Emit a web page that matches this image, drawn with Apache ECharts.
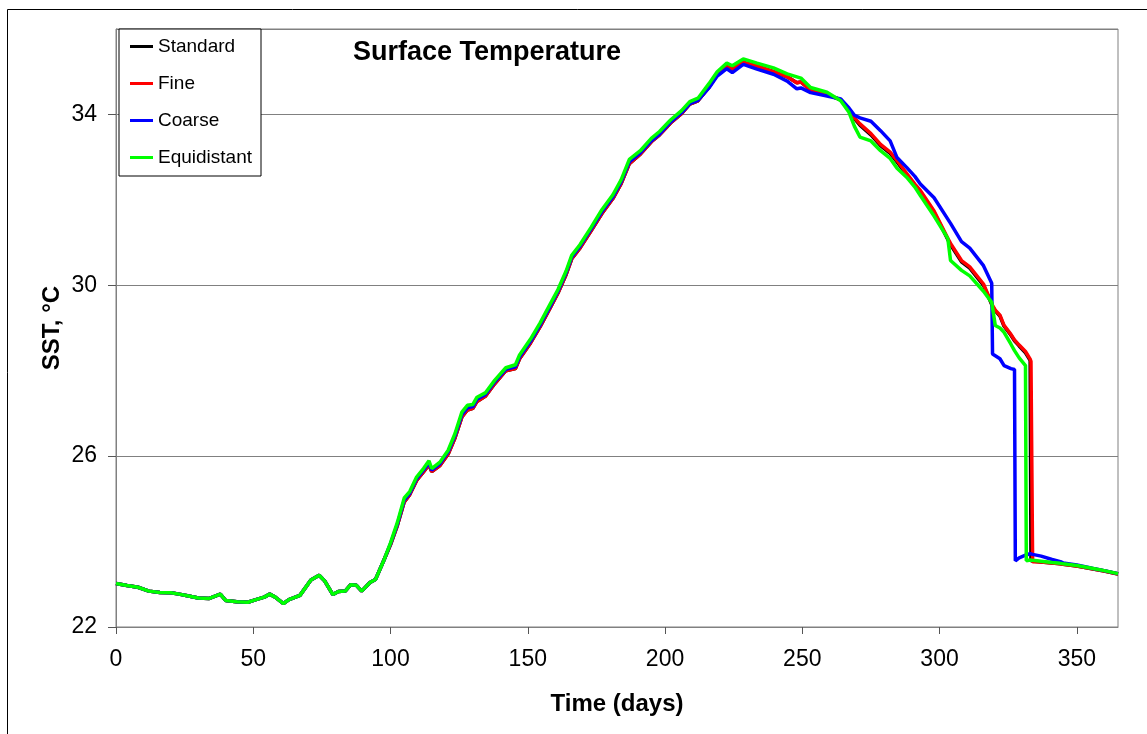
<!DOCTYPE html>
<html>
<head>
<meta charset="utf-8">
<script src="https://cdn.jsdelivr.net/npm/echarts@6/dist/echarts.min.js"></script>
<style>
html,body{margin:0;padding:0;background:#fff;}
#chart{width:1147px;height:734px;}
</style>
</head>
<body>
<div id="chart"></div>
<script>
const seriesNames = ['Standard', 'Fine', 'Coarse', 'Equidistant'];
const xTicks = [0, 50, 100, 150, 200, 250, 300, 350];
const yTicks = [22, 26, 30, 34];

const days = [
  0, 4, 8, 12, 16, 20, 23, 26, 30, 34,
  38, 40, 44, 48, 51, 54, 56, 58, 61, 63,
  67, 71, 74, 76, 79, 81, 83.5, 85.5, 87.5, 89.5,
  92.5, 94.5, 97.5, 100, 102.5, 105, 107, 109.5, 112, 114,
  115, 118, 121, 123.5, 126, 128, 130, 131.5, 134.5, 138,
  142, 145.5, 147, 151, 154.5, 158, 161, 164, 166, 169,
  173, 177, 181, 184, 187, 191, 195, 198, 202, 206,
  209, 212, 216, 219, 222.5, 224.5, 228.5, 233.5, 239.5, 244.5,
  248, 249.5, 253, 259, 264, 267, 269, 271, 275, 278.5,
  282, 284.5, 288, 291, 293, 298, 303, 304, 308, 311,
  316, 319, 319.3, 320.3, 322, 323.5, 326, 327.3, 327.6, 329,
  331.3, 331.6, 333, 333.3, 333.6, 333.9, 337, 341, 344, 345,
  350, 356, 360, 365
];

const standard = [
  23.02, 22.97, 22.93, 22.84, 22.81, 22.80, 22.77, 22.73, 22.68, 22.67,
  22.77, 22.62, 22.59, 22.58, 22.64, 22.70, 22.77, 22.70, 22.55, 22.64,
  22.74, 23.10, 23.21, 23.08, 22.76, 22.83, 22.84, 22.99, 22.98, 22.84,
  23.04, 23.11, 23.55, 23.93, 24.38, 24.93, 25.10, 25.43, 25.63, 25.80,
  25.64, 25.78, 26.05, 26.43, 26.92, 27.08, 27.12, 27.28, 27.40, 27.70,
  28.00, 28.05, 28.28, 28.65, 29.03, 29.45, 29.82, 30.26, 30.62, 30.87,
  31.27, 31.68, 32.03, 32.38, 32.85, 33.07, 33.36, 33.52, 33.80, 34.02,
  34.24, 34.32, 34.64, 34.92, 35.12, 35.06, 35.22, 35.13, 35.00, 34.88,
  34.74, 34.76, 34.57, 34.47, 34.34, 34.12, 33.90, 33.75, 33.52, 33.27,
  33.09, 32.89, 32.59, 32.34, 32.19, 31.71, 31.07, 30.95, 30.55, 30.40,
  30.00, 29.55, 29.50, 29.40, 29.28, 29.04, 28.83, 28.70, 28.68, 28.58,
  28.42, 28.39, 28.24, 23.55, 23.54, 23.53, 23.52, 23.50, 23.48, 23.47,
  23.43, 23.36, 23.31, 23.24
];

const fine = [
  23.02, 22.97, 22.93, 22.84, 22.81, 22.80, 22.77, 22.73, 22.68, 22.67,
  22.77, 22.62, 22.59, 22.58, 22.64, 22.70, 22.77, 22.70, 22.55, 22.64,
  22.74, 23.10, 23.21, 23.08, 22.76, 22.83, 22.84, 22.99, 22.98, 22.84,
  23.04, 23.11, 23.55, 23.93, 24.38, 24.93, 25.10, 25.43, 25.63, 25.80,
  25.64, 25.78, 26.05, 26.43, 26.92, 27.08, 27.12, 27.28, 27.40, 27.70,
  28.00, 28.05, 28.28, 28.65, 29.03, 29.45, 29.82, 30.26, 30.62, 30.87,
  31.27, 31.68, 32.03, 32.38, 32.85, 33.07, 33.36, 33.52, 33.80, 34.02,
  34.24, 34.32, 34.64, 34.92, 35.12, 35.06, 35.22, 35.13, 35.00, 34.88,
  34.74, 34.76, 34.57, 34.47, 34.34, 34.12, 33.92, 33.78, 33.55, 33.30,
  33.12, 32.92, 32.62, 32.37, 32.22, 31.74, 31.10, 30.98, 30.58, 30.43,
  30.03, 29.58, 29.53, 29.42, 29.30, 29.06, 28.85, 28.72, 28.70, 28.60,
  28.45, 28.42, 28.27, 28.22, 28.18, 23.53, 23.52, 23.50, 23.48, 23.47,
  23.43, 23.36, 23.31, 23.24
];

const coarse = [
  23.02, 22.97, 22.93, 22.84, 22.81, 22.80, 22.77, 22.73, 22.68, 22.67,
  22.77, 22.62, 22.59, 22.58, 22.64, 22.70, 22.77, 22.70, 22.55, 22.64,
  22.74, 23.10, 23.21, 23.08, 22.76, 22.83, 22.84, 22.99, 22.98, 22.84,
  23.04, 23.11, 23.55, 23.95, 24.41, 24.97, 25.13, 25.47, 25.67, 25.84,
  25.67, 25.82, 26.10, 26.48, 26.97, 27.13, 27.16, 27.33, 27.44, 27.74,
  28.03, 28.09, 28.32, 28.69, 29.07, 29.49, 29.86, 30.30, 30.66, 30.91,
  31.31, 31.72, 32.07, 32.42, 32.89, 33.10, 33.38, 33.54, 33.82, 34.04,
  34.25, 34.33, 34.62, 34.90, 35.07, 34.98, 35.17, 35.06, 34.94, 34.78,
  34.60, 34.62, 34.51, 34.43, 34.36, 34.15, 33.98, 33.92, 33.84, 33.62,
  33.38, 32.99, 32.76, 32.55, 32.37, 32.05, 31.55, 31.45, 31.02, 30.87,
  30.46, 30.05, 28.39, 28.35, 28.28, 28.12, 28.05, 28.03, 23.55, 23.62,
  23.68, 23.70, 23.72, 23.72, 23.71, 23.70, 23.66, 23.58, 23.53, 23.50,
  23.45, 23.37, 23.32, 23.25
];

const equidistant = [
  23.02, 22.97, 22.93, 22.84, 22.81, 22.80, 22.77, 22.73, 22.68, 22.67,
  22.77, 22.62, 22.59, 22.58, 22.64, 22.70, 22.77, 22.70, 22.55, 22.64,
  22.74, 23.10, 23.21, 23.08, 22.76, 22.83, 22.84, 22.99, 22.98, 22.84,
  23.04, 23.11, 23.55, 23.97, 24.45, 25.02, 25.17, 25.51, 25.71, 25.89,
  25.71, 25.86, 26.14, 26.53, 27.03, 27.19, 27.21, 27.38, 27.48, 27.78,
  28.07, 28.14, 28.37, 28.74, 29.12, 29.54, 29.90, 30.34, 30.70, 30.95,
  31.35, 31.77, 32.12, 32.47, 32.95, 33.15, 33.44, 33.60, 33.87, 34.09,
  34.30, 34.38, 34.72, 35.00, 35.20, 35.14, 35.30, 35.20, 35.09, 34.95,
  34.88, 34.85, 34.63, 34.52, 34.32, 34.05, 33.72, 33.47, 33.38, 33.15,
  32.97, 32.74, 32.53, 32.30, 32.10, 31.62, 31.10, 30.58, 30.35, 30.22,
  29.86, 29.60, 29.56, 29.06, 29.00, 28.90, 28.62, 28.47, 28.44, 28.30,
  28.12, 23.55, 23.57, 23.57, 23.56, 23.56, 23.54, 23.51, 23.49, 23.48,
  23.44, 23.37, 23.32, 23.25
];

const seriesValues = [standard, fine, coarse, equidistant];
const seriesColors = ['#000000', '#ff0000', '#0000ff', '#00ff00'];

const FONT = '"Liberation Sans", Arial, sans-serif';
const chart = echarts.init(document.getElementById('chart'), null, {renderer: 'canvas'});

chart.setOption({
  animation: false,
  backgroundColor: '#ffffff',
  textStyle: {fontFamily: FONT},
  title: {
    text: 'Surface Temperature',
    left: 353, top: 39, padding: 0,
    textStyle: {fontFamily: FONT, fontSize: 27, fontWeight: 'bold', color: '#000'}
  },
  graphic: [{
    type: 'rect', silent: true, z: -1,
    shape: {x: 7.5, y: 9.5, width: 1300, height: 900},
    style: {fill: 'none', stroke: '#000', lineWidth: 1}
  }],
  legend: {
    data: seriesNames.map(function (n) { return {name: n, icon: 'rect'}; }),
    orient: 'vertical',
    left: 119, top: 29,
    padding: [8, 9, 9, 11],
    itemWidth: 23, itemHeight: 3,
    itemGap: 18, itemTextGap: 5,
    borderColor: '#000', borderWidth: 1,
    backgroundColor: '#fff',
    textStyle: {fontFamily: FONT, fontSize: 19, color: '#000'}
  },
  grid: {
    left: 116, top: 29, right: 29, bottom: 107,
    show: true, borderColor: '#808080', borderWidth: 1,
    containLabel: false
  },
  xAxis: {
    type: 'value', min: 0, max: 365, interval: 50,
    name: 'Time (days)', nameLocation: 'middle', nameGap: 65, nameMoveOverlap: false,
    nameTextStyle: {fontFamily: FONT, fontSize: 24, fontWeight: 'bold', color: '#000'},
    axisLine: {show: true, lineStyle: {color: '#808080', width: 1}},
    axisTick: {show: true, length: 7, lineStyle: {color: '#555'}},
    axisLabel: {
      fontFamily: FONT, fontSize: 23, color: '#000', margin: 21, showMaxLabel: false,
      formatter: function (v) { return xTicks.indexOf(v) >= 0 ? String(v) : ''; }
    },
    splitLine: {show: false}
  },
  yAxis: {
    type: 'value', min: 22, max: 36, interval: 4,
    name: 'SST, °C', nameLocation: 'middle', nameGap: 52, nameRotate: 90, nameMoveOverlap: false,
    nameTextStyle: {fontFamily: FONT, fontSize: 24, fontWeight: 'bold', color: '#000'},
    axisLine: {show: true, lineStyle: {color: '#808080', width: 1}},
    axisTick: {show: true, length: 8, lineStyle: {color: '#555'}},
    axisLabel: {
      fontFamily: FONT, fontSize: 23, color: '#000', margin: 19, showMaxLabel: false,
      formatter: function (v) { return yTicks.indexOf(v) >= 0 ? String(v) : ''; }
    },
    splitLine: {show: true, lineStyle: {color: '#808080', width: 1}}
  },
  series: seriesNames.map(function (name, k) {
    return {
      name: name,
      type: 'line',
      symbol: 'none',
      showSymbol: false,
      color: seriesColors[k],
      lineStyle: {color: seriesColors[k], width: 3.5},
      data: days.map(function (d, i) { return [d, seriesValues[k][i]]; }),
      z: 2 + k
    };
  })
});
</script>
</body>
</html>
